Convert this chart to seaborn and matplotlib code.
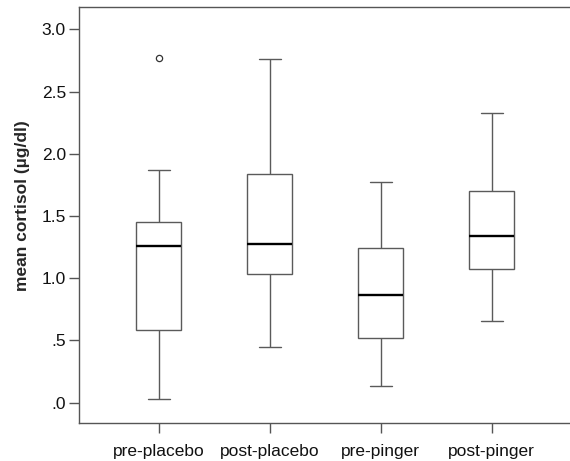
import numpy as np
import pandas as pd
import matplotlib
matplotlib.use("Agg")
import matplotlib.pyplot as plt
import seaborn as sns

# ---- data ----
conditions = ["pre-placebo", "post-placebo", "pre-pinger", "post-pinger"]
whisker_low = [0.027, 0.448, 0.134, 0.657]
q1 = [0.587, 1.032, 0.520, 1.072]
median = [1.260, 1.273, 0.863, 1.338]
q3 = [1.455, 1.838, 1.246, 1.702]
whisker_high = [1.871, 2.760, 1.772, 2.326]
outlier_conditions = ["pre-placebo"]
outlier_values = [2.771]
y_ticks = [0.0, 0.5, 1.0, 1.5, 2.0, 2.5, 3.0]
y_tick_labels = [".0", ".5", "1.0", "1.5", "2.0", "2.5", "3.0"]
y_label = "mean cortisol (µg/dl)"

# five-number summaries as samples (n=5 -> exact quartiles)
rows = []
for i, c in enumerate(conditions):
    for v in (whisker_low[i], q1[i], median[i], q3[i], whisker_high[i]):
        rows.append({"condition": c, "cortisol": v})
df = pd.DataFrame(rows)
df_out = pd.DataFrame({"condition": outlier_conditions, "cortisol": outlier_values})

sns.set_style("white")
plt.rcParams["font.family"] = ["Liberation Sans", "DejaVu Sans"]

fig = plt.figure(figsize=(5.7, 4.61), dpi=100)
W, H = 570.0, 461.0
left_px, right_px, top_px, bottom_px = 78.7, 571.6, 7.3, 422.7
ax = fig.add_axes([left_px / W, 1 - bottom_px / H,
                   (right_px - left_px) / W, (bottom_px - top_px) / H])

edge = "#5a5a5a"
sns.boxplot(data=df, x="condition", y="cortisol", order=conditions,
            width=0.4, color="white", linecolor=edge, linewidth=1.0,
            whis=np.inf, ax=ax,
            medianprops={"color": "black", "linewidth": 1.7})
sns.stripplot(data=df_out, x="condition", y="cortisol", order=conditions,
              jitter=False, color="white", edgecolor="#333333",
              linewidth=0.9, size=4.5, ax=ax, zorder=5)

ax.set_xlim(-0.72, 3.72)
ax.set_ylim(-0.161, 3.178)
ax.set_yticks(y_ticks)
ax.set_yticklabels(y_tick_labels)
ax.set_xlabel("")
ax.set_ylabel(y_label, fontsize=12.5, fontweight="bold", va="center")
ax.yaxis.set_label_coords((22 - left_px) / (right_px - left_px),
                          (bottom_px - 206) / (bottom_px - top_px))

for name, s in ax.spines.items():
    s.set_visible(name != "right")
    s.set_color("#555555")
    s.set_linewidth(1.0)

ax.tick_params(axis="both", which="major", length=7.2, width=1.0,
               color="#555555", labelsize=12.5, labelcolor="#111111",
               direction="out", left=True, bottom=True)
ax.tick_params(axis="y", pad=2)
ax.tick_params(axis="x", pad=8)

fig.savefig("out.png", dpi=100)
